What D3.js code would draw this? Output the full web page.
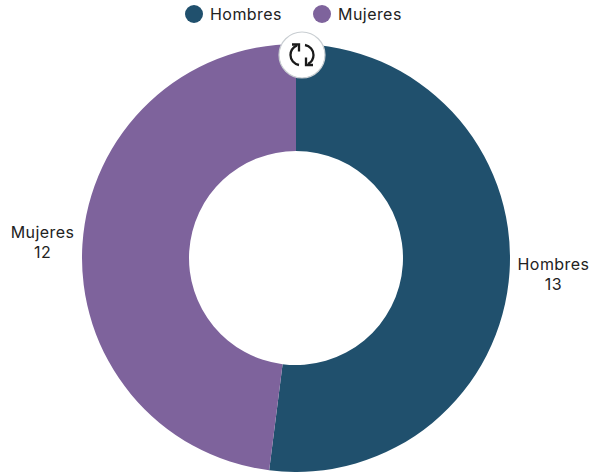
<!DOCTYPE html>
<html>
<head>
<meta charset="utf-8">
<script src="https://cdn.jsdelivr.net/npm/d3@7"></script>
<style>
html,body{margin:0;padding:0;background:#fff;}
svg{display:block;}
text{font-family:Inter,"Noto Sans",sans-serif;font-size:16px;fill:#222;letter-spacing:.45px;}
</style>
</head>
<body>
<div id="chart"></div>
<script>
const categories=["Hombres","Mujeres"];
const values=[13,12];
const colors=["#20506d","#7e639c"];

const width=592,height=472;
const cx=296,cy=258,outer=214,inner=107;

const svg=d3.select("#chart").append("svg").attr("width",width).attr("height",height);
const g=svg.append("g").attr("transform",`translate(${cx},${cy})`);

const color=d3.scaleOrdinal().domain(categories).range(colors);
const pie=d3.pie().sort(null).value((d,i)=>values[i]);
const arc=d3.arc().innerRadius(inner).outerRadius(outer);
const slices=pie(categories);

g.selectAll("path.slice").data(slices).enter().append("path")
  .attr("class","slice")
  .attr("d",arc)
  .attr("fill",d=>color(d.data));

// labels sit just outside the ring, pushed out by half their width
const labels=g.selectAll("text.label").data(slices).enter().append("text")
  .attr("class","label")
  .attr("text-anchor","middle");
labels.append("tspan").attr("x",0).attr("dy",0).text(d=>d.data);
labels.append("tspan").attr("x",0).attr("dy",20).text(d=>d.value);
labels.attr("transform",function(d){
  const w=this.querySelector("tspan").getComputedTextLength();
  const r=outer+8+w/2;
  const a=(d.startAngle+d.endAngle)/2;
  return `translate(${r*Math.sin(a)},${-r*Math.cos(a)-4})`;
});

// legend
const legendX=d3.scalePoint().domain(categories).range([194,322]);
const legend=svg.selectAll("g.legend").data(categories).enter().append("g")
  .attr("class","legend")
  .attr("transform",d=>`translate(${legendX(d)},14)`);
legend.append("circle").attr("r",9).attr("fill",d=>color(d));
legend.append("text").attr("x",16).attr("y",5.5).text(d=>d);

// refresh button
const btn=svg.append("g").attr("transform","translate(302,55)");
btn.append("circle").attr("r",23).attr("fill","#fff").attr("stroke","#c9ced2").attr("stroke-width",1.2);
const ic=btn.append("g").attr("fill","none").attr("stroke","#1a1a1a").attr("stroke-width",2.3);
ic.append("path").attr("d","M-3,10 C-8,9 -11.5,5 -11.5,0 C-11.5,-4 -9.5,-7.5 -5,-9.5");
ic.append("path").attr("d","M-3,-3.5 L-3,-10.5 L-10,-10.5");
ic.append("path").attr("d","M3,-10 C8,-9 11.5,-5 11.5,0 C11.5,3.5 9.5,7 6,9");
ic.append("path").attr("d","M4,2.5 L4,10 L11,10");
</script>
</body>
</html>
